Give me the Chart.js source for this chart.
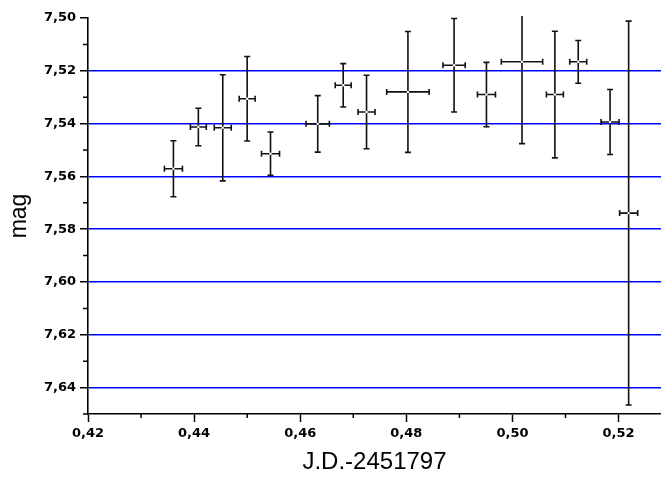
<!DOCTYPE html>
<html>
<head>
<meta charset="utf-8">
<script src="https://cdn.jsdelivr.net/npm/chart.js@4/dist/chart.umd.min.js"></script>
<style>
  html, body { margin: 0; padding: 0; background: #fff; }
  #wrap { width: 661px; height: 477px; }
</style>
</head>
<body>
<div id="wrap"><canvas id="lc"></canvas></div>
<script>
// light curve points
const jd     = [0.4361, 0.4408, 0.4454, 0.4500, 0.4544, 0.4633, 0.4681, 0.4725, 0.4803, 0.4890, 0.4951, 0.5018, 0.5080, 0.5124, 0.5184, 0.5219];
const mag    = [7.5571, 7.5413, 7.5416, 7.5306, 7.5514, 7.5401, 7.5255, 7.5356, 7.5280, 7.5179, 7.5290, 7.5166, 7.5290, 7.5166, 7.5394, 7.5739];
const jdErr  = [0.0017, 0.0015, 0.0016, 0.0015, 0.0017, 0.0022, 0.0015, 0.0016, 0.0040, 0.0021, 0.0017, 0.0039, 0.0016, 0.0016, 0.0017, 0.0017];
const magErr = [0.0106, 0.0071, 0.0201, 0.0160, 0.0082, 0.0107, 0.0082, 0.0139, 0.0229, 0.0177, 0.0122, 0.0310, 0.0240, 0.0081, 0.0123, 0.0727];

const xTicks = [0.42, 0.44, 0.46, 0.48, 0.50, 0.52];
const yTicks = [7.50, 7.52, 7.54, 7.56, 7.58, 7.60, 7.62, 7.64];
const xMinor = [0.43, 0.45, 0.47, 0.49, 0.51];
const yMinor = [7.51, 7.53, 7.55, 7.57, 7.59, 7.61, 7.63, 7.65];

const textColor = "#000";
const gridBlue = "#0000ff";
const tickFont = { family: "DejaVu Sans", size: 13, weight: "bold" };

const comma = v => v.toFixed(2).replace(".", ",");

const errorBars = {
    id: "errorBars",
    beforeDatasetsDraw(chart) {
        const { ctx, chartArea: a, scales: { x, y } } = chart;
        ctx.save();
        ctx.beginPath();
        ctx.rect(a.left, a.top - 2, a.right - a.left, a.bottom - a.top + 2);
        ctx.clip();
        ctx.strokeStyle = "#111";
        ctx.lineWidth = 1.6;
        const cap = 3;
        jd.forEach((v, i) => {
            const px = x.getPixelForValue(v);
            const py = y.getPixelForValue(mag[i]);
            const x0 = x.getPixelForValue(v - jdErr[i]);
            const x1 = x.getPixelForValue(v + jdErr[i]);
            const y0 = y.getPixelForValue(mag[i] - magErr[i]);
            const y1 = y.getPixelForValue(mag[i] + magErr[i]);
            ctx.beginPath();
            ctx.moveTo(px, y0); ctx.lineTo(px, y1);
            ctx.moveTo(px - cap, y0); ctx.lineTo(px + cap, y0);
            ctx.moveTo(px - cap, y1); ctx.lineTo(px + cap, y1);
            ctx.moveTo(x0, py); ctx.lineTo(x1, py);
            ctx.moveTo(x0, py - cap); ctx.lineTo(x0, py + cap);
            ctx.moveTo(x1, py - cap); ctx.lineTo(x1, py + cap);
            ctx.stroke();
        });
        ctx.restore();
    },
    afterDraw(chart) {
        // minor ticks, shorter than the major ones
        const { ctx, chartArea: a, scales: { x, y } } = chart;
        ctx.save();
        ctx.strokeStyle = "#000";
        ctx.lineWidth = 1.5;
        ctx.beginPath();
        xMinor.forEach(v => {
            const px = x.getPixelForValue(v);
            ctx.moveTo(px, a.bottom); ctx.lineTo(px, a.bottom + 4);
        });
        yMinor.forEach(v => {
            const py = y.getPixelForValue(v);
            ctx.moveTo(a.left, py); ctx.lineTo(a.left - 5, py);
        });
        ctx.stroke();
        ctx.restore();
    },
};

new Chart(document.getElementById("lc"), {
    type: "scatter",
    data: {
        datasets: [{
            data: jd.map((v, i) => ({ x: v, y: mag[i] })),
            pointRadius: 1.2,
            pointBackgroundColor: "#fff",
            pointBorderWidth: 0,
        }],
    },
    options: {
        responsive: true,
        maintainAspectRatio: false,
        animation: false,
        layout: { autoPadding: false, padding: { top: 18, right: 0, bottom: 0, left: 0 } },
        plugins: { legend: { display: false }, tooltip: { enabled: false } },
        scales: {
            x: {
                type: "linear",
                min: 0.42,
                max: 0.528,
                afterBuildTicks: s => { s.ticks = xTicks.map(v => ({ value: v })); },
                afterFit: s => { s.height = 63; s.paddingRight = 0; s.paddingLeft = 0; },
                ticks: { color: textColor, font: tickFont, padding: 4, maxRotation: 0, callback: comma },
                grid: { drawOnChartArea: false, tickLength: 8, tickColor: "#000", tickWidth: 1.5 },
                border: { color: "#000", width: 1.6 },
                title: { display: true, text: "J.D.-2451797", color: textColor, font: { family: "Liberation Sans", size: 24 }, padding: 0 },
            },
            y: {
                type: "linear",
                reverse: true,
                min: 7.50,
                max: 7.65,
                afterBuildTicks: s => { s.ticks = yTicks.map(v => ({ value: v })); },
                afterFit: s => { s.width = 88; },
                ticks: { color: textColor, font: tickFont, padding: 4, callback: comma },
                grid: {
                    color: c => (c.tick && c.tick.value === 7.5 ? "transparent" : gridBlue),
                    lineWidth: 1.5,
                    tickLength: 8,
                    tickColor: "#000",
                    tickWidth: 1.5,
                },
                border: { color: "#000", width: 1.6 },
                title: { display: true, text: "mag", color: textColor, font: { family: "Liberation Sans", size: 23 }, padding: { top: 6, bottom: 0 } },
            },
        },
    },
    plugins: [errorBars],
});
</script>
</body>
</html>
